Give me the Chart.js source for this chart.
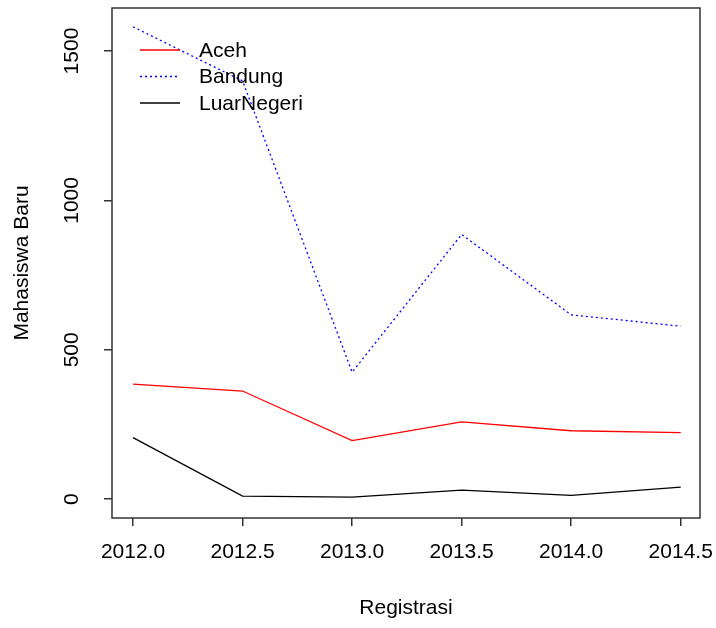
<!DOCTYPE html>
<html>
<head>
<meta charset="utf-8">
<script src="https://cdn.jsdelivr.net/npm/chart.js@4.4.1/dist/chart.umd.min.js"></script>
<style>
  html, body { margin: 0; padding: 0; background: #fff; }
  #wrap { width: 716px; height: 628px; }
</style>
</head>
<body>
<div id="wrap"><canvas id="plot" width="716" height="628"></canvas></div>
<script>
// New students per registration period
const years = [2012.0, 2012.5, 2013.0, 2013.5, 2014.0, 2014.5];
const aceh = [385, 362, 196, 259, 229, 223];
const bandung = [1581, 1400, 425, 886, 617, 579];
const luarNegeri = [206, 10, 7, 30, 13, 40];

const xTicks = [2012.0, 2012.5, 2013.0, 2013.5, 2014.0, 2014.5];
const yTicks = [0, 500, 1000, 1500];

const FONT = 'Arial, "Liberation Sans", sans-serif';
const FONT_SIZE = 21;

const toPoints = (vals) => vals.map((v, i) => ({ x: years[i], y: v }));

// R-style frame, rotated y labels, axis titles and a box-less legend
const baseGraphics = {
  id: 'baseGraphics',
  afterDraw(chart) {
    const { ctx, chartArea: a, scales: { x, y } } = chart;
    ctx.save();

    ctx.strokeStyle = '#333';
    ctx.lineWidth = 1.5;
    ctx.strokeRect(a.left, a.top, a.right - a.left, a.bottom - a.top);

    ctx.fillStyle = '#000';
    ctx.font = `${FONT_SIZE}px ${FONT}`;
    ctx.textAlign = 'center';
    ctx.textBaseline = 'middle';
    y.ticks.forEach(t => {
      ctx.save();
      ctx.translate(72, y.getPixelForValue(t.value));
      ctx.rotate(-Math.PI / 2);
      ctx.fillText(String(t.value), 0, 0);
      ctx.restore();
    });

    ctx.save();
    ctx.translate(22, (a.top + a.bottom) / 2);
    ctx.rotate(-Math.PI / 2);
    ctx.fillText('Mahasiswa Baru', 0, 0);
    ctx.restore();

    ctx.fillText('Registrasi', (a.left + a.right) / 2, 608);

    // legend
    ctx.textAlign = 'left';
    chart.data.datasets.forEach((ds, i) => {
      const ly = 50 + i * 26.5;
      ctx.beginPath();
      ctx.strokeStyle = ds.borderColor;
      ctx.lineWidth = ds.borderWidth;
      ctx.setLineDash(ds.borderDash || []);
      ctx.moveTo(140, ly);
      ctx.lineTo(180, ly);
      ctx.stroke();
      ctx.setLineDash([]);
      ctx.fillStyle = '#000';
      ctx.fillText(ds.label, 199, ly + 1);
    });

    ctx.restore();
  }
};

// fixed axis margins, no extra room for overhanging tick labels
const fixBox = (w, h) => (s) => {
  if (w) s.width = w;
  if (h) s.height = h;
  s.paddingLeft = s.paddingRight = s.paddingTop = s.paddingBottom = 0;
};

new Chart(document.getElementById('plot'), {
  type: 'line',
  data: {
    datasets: [
      {
        label: 'Aceh',
        data: toPoints(aceh),
        borderColor: '#FF0000',
        borderWidth: 1.3,
        pointRadius: 0,
        tension: 0
      },
      {
        label: 'Bandung',
        data: toPoints(bandung),
        borderColor: '#0000FF',
        borderWidth: 1.3,
        borderDash: [2, 3],
        pointRadius: 0,
        tension: 0
      },
      {
        label: 'LuarNegeri',
        data: toPoints(luarNegeri),
        borderColor: '#000000',
        borderWidth: 1.3,
        pointRadius: 0,
        tension: 0
      }
    ]
  },
  options: {
    responsive: false,
    animation: false,
    layout: { padding: { top: 8, right: 16, left: 0, bottom: 0 } },
    plugins: {
      legend: { display: false },
      tooltip: { enabled: false }
    },
    scales: {
      x: {
        type: 'linear',
        min: 2011.904,
        max: 2014.588,
        afterBuildTicks: (s) => { s.ticks = xTicks.map(v => ({ value: v })); },
        afterFit: fixBox(0, 110),
        border: { display: false },
        grid: { drawOnChartArea: false, drawTicks: true, tickLength: 8, color: '#333', lineWidth: 1.5 },
        ticks: {
          color: '#000',
          padding: 14,
          maxRotation: 0,
          autoSkip: false,
          font: { family: FONT, size: FONT_SIZE },
          callback: (v) => Number(v).toFixed(1)
        }
      },
      y: {
        type: 'linear',
        min: -63,
        max: 1644,
        afterBuildTicks: (s) => { s.ticks = yTicks.map(v => ({ value: v })); },
        afterFit: fixBox(112, 0),
        border: { display: false },
        grid: { drawOnChartArea: false, drawTicks: true, tickLength: 8, color: '#333', lineWidth: 1.5 },
        ticks: { display: false }
      }
    }
  },
  plugins: [baseGraphics]
});
</script>
</body>
</html>
